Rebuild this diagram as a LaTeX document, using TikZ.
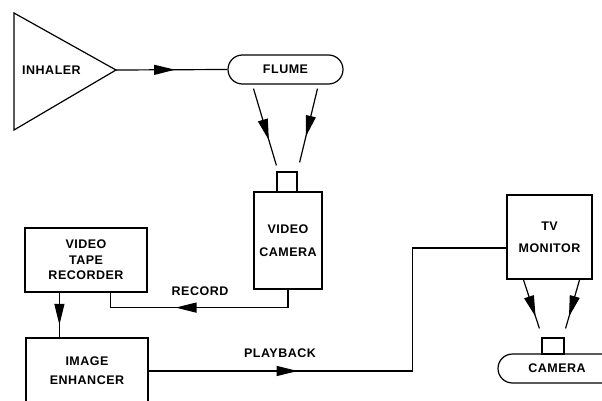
\documentclass[tikz,border=0pt]{standalone}
\usepackage{fontspec}
\setmainfont{Liberation Sans}
\newfontfamily\diagface[LetterSpace=4]{Liberation Sans}
\usetikzlibrary{arrows.meta,calc,shapes.misc,decorations.markings}
\newcommand{\diagfont}{\diagface\fontsize{12.5}{15}\selectfont\bfseries}
\tikzset{
  blockbox/.style={draw, line width=1.2pt, align=center, inner sep=0pt, font=\diagfont},
  lensbox/.style={draw, line width=1.2pt, inner sep=0pt},
  pillbox/.style={draw, rounded rectangle, line width=1.2pt, inner sep=0pt, font=\diagfont},
  tag/.style={font=\diagfont, inner sep=1pt},
  wire/.style={line width=1.2pt},
  midarr/.style={wire, postaction={decorate},
                 decoration={markings, mark=at position #1 with {\arrow{Triangle[length=21pt,width=10pt]}}}}}

\begin{document}
\begin{tikzpicture}[x=1pt,y=-1pt]
    \useasboundingbox (0,0) rectangle (602,401);
    \clip (0,0) rectangle (602,401);
    % source side
    \node[tag] (inhaler) at (51.5,70) {INHALER};
    \draw[wire] (14,13) -- (116,70) -- (14,130) -- cycle;
    \coordinate (inhtip) at (116,70);
    \node[pillbox, minimum width=115pt, minimum height=29pt] (flume) at (285.5,69.5) {FLUME};
    \node[lensbox, minimum width=20pt, minimum height=20pt] (vlens) at (287,182) {};
    \node[blockbox, minimum width=68pt, minimum height=97pt] (vcam) at (288,240.5)
      {VIDEO\\[8pt]CAMERA};
    % recording and playback
    \node[blockbox, minimum width=122pt, minimum height=64pt] (vtr) at (86,260)
      {VIDEO\\[1pt]TAPE\\RECORDER};
    \node[blockbox, minimum width=122pt, minimum height=66pt] (enh) at (87,371)
      {IMAGE\\[4pt]ENHANCER};
    \node[blockbox, minimum width=85pt, minimum height=84pt] (tv) at (549.5,237)
      {TV\\[7pt]MONITOR};
    \node[lensbox, minimum width=22pt, minimum height=16pt] (clens) at (553,346) {};
    \node[pillbox, minimum width=118pt, minimum height=29pt] (camera) at (557,368.5) {CAMERA};
    % connectors
    \draw[midarr=0.53] (inhtip) -- (flume.west);
    \draw[midarr=0.67] ($(flume.south west)+(11,4)$) -- ($(vlens.north west)+(0,-6)$);
    \draw[midarr=0.65] ($(flume.south east)+(-11,4)$) -- ($(vlens.north east)+(2,-9)$);
    \draw[midarr=0.62] (vcam.south) -- ++(0,18) -| ($(vtr.south east)+(-37,0)$);
    \node[tag] (record) at (200,291) {RECORD};
    \draw[midarr=0.72] ($(vtr.south west)+(35,0)$) -- ($(enh.north west)+(34,0)$);
    \draw[midarr=0.31] (enh.east) -- ++(264,0) |- ($(tv.west)+(0,11)$);
    \node[tag] (playback) at (280,353) {PLAYBACK};
    \draw[midarr=0.76] ($(tv.south west)+(17,0)$) -- ($(clens.north west)+(-2,-9)$);
    \draw[midarr=0.76] ($(tv.south east)+(-13,0)$) -- ($(clens.north east)+(1,-9)$);
\end{tikzpicture}
\end{document}
